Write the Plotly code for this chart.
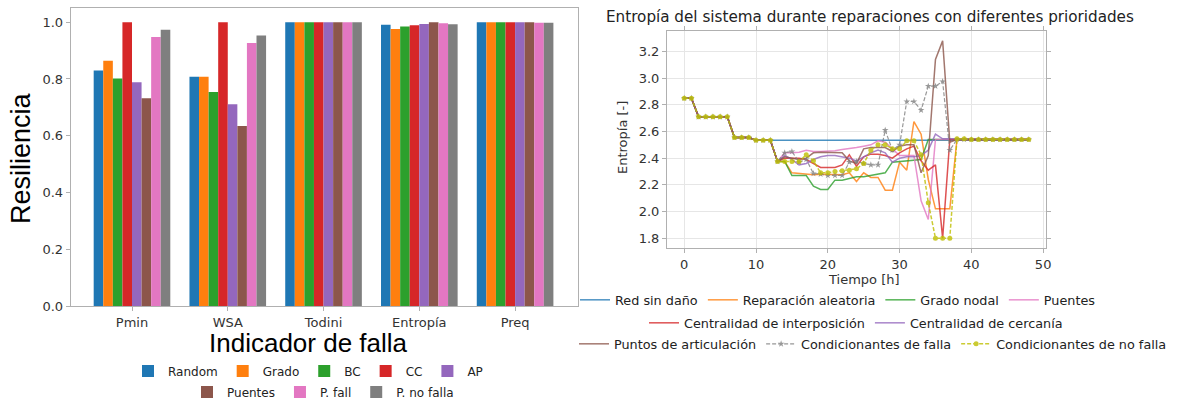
import plotly.graph_objects as go

# ---------------- Left chart data (Resiliencia por indicador) ----------------
indicadores = ["Pmin", "WSA", "Todini", "Entropía", "Preq"]
estrategias = ["Random", "Grado", "BC", "CC", "AP", "Puentes", "P. fall", "P. no falla"]
res_random = [0.830, 0.808, 1.000, 0.991, 1.000]
res_grado = [0.864, 0.808, 1.000, 0.976, 1.000]
res_bc = [0.802, 0.754, 1.000, 0.985, 1.000]
res_cc = [1.000, 1.000, 1.000, 0.989, 1.000]
res_ap = [0.788, 0.711, 1.000, 0.994, 1.000]
res_puentes = [0.732, 0.634, 1.000, 1.000, 1.000]
res_pfall = [0.948, 0.927, 1.000, 0.996, 0.998]
res_pnofalla = [0.973, 0.953, 1.000, 0.993, 0.998]
resiliencias = [res_random, res_grado, res_bc, res_cc, res_ap, res_puentes, res_pfall, res_pnofalla]

# ---------------- Right chart data (Entropía vs tiempo) ----------------
tiempo = list(range(49))
red_sin_dano = [2.85, 2.85, 2.71, 2.71, 2.71, 2.71, 2.71, 2.555, 2.555, 2.555, 2.535, 2.535, 2.535,
                2.535, 2.535, 2.535, 2.535, 2.535, 2.535, 2.535, 2.535, 2.535, 2.535, 2.535, 2.535,
                2.535, 2.535, 2.535, 2.535, 2.535, 2.535, 2.535, 2.535, 2.535, 2.535, 2.535, 2.535,
                2.535, 2.535, 2.535, 2.535, 2.535, 2.535, 2.535, 2.535, 2.535, 2.535, 2.535, 2.535]
rep_aleatoria = [2.85, 2.85, 2.71, 2.71, 2.71, 2.71, 2.71, 2.555, 2.555, 2.555, 2.535, 2.535, 2.535,
                 2.375, 2.375, 2.29, 2.285, 2.28, 2.275, 2.28, 2.28, 2.28, 2.275, 2.29, 2.225,
                 2.29, 2.255, 2.255, 2.16, 2.16, 2.37, 2.31, 2.675, 2.58, 2.24, 2.02, 2.02,
                 2.02, 2.54, 2.54, 2.54, 2.54, 2.54, 2.54, 2.54, 2.54, 2.54, 2.54, 2.54]
grado_nodal = [2.85, 2.85, 2.71, 2.71, 2.71, 2.71, 2.71, 2.555, 2.555, 2.555, 2.535, 2.535, 2.535,
               2.375, 2.375, 2.27, 2.27, 2.27, 2.19, 2.165, 2.165, 2.235, 2.235, 2.25, 2.26,
               2.26, 2.27, 2.28, 2.29, 2.37, 2.375, 2.38, 2.385, 2.39, 2.54, 2.54, 2.54,
               2.54, 2.54, 2.54, 2.54, 2.54, 2.54, 2.54, 2.54, 2.54, 2.54, 2.54, 2.54]
puentes = [2.85, 2.85, 2.71, 2.71, 2.71, 2.71, 2.71, 2.555, 2.555, 2.555, 2.535, 2.535, 2.535,
           2.375, 2.44, 2.44, 2.445, 2.46, 2.45, 2.45, 2.45, 2.455, 2.465, 2.47, 2.48,
           2.49, 2.50, 2.53, 2.52, 2.47, 2.42, 2.42, 2.42, 2.08, 1.94, 2.54, 2.54,
           2.54, 2.54, 2.54, 2.54, 2.54, 2.54, 2.54, 2.54, 2.54, 2.54, 2.54, 2.54]
interposicion = [2.85, 2.85, 2.71, 2.71, 2.71, 2.71, 2.71, 2.555, 2.555, 2.555, 2.535, 2.535, 2.535,
                 2.375, 2.40, 2.40, 2.40, 2.39, 2.36, 2.33, 2.33, 2.33, 2.35, 2.425, 2.34,
                 2.41, 2.43, 2.43, 2.42, 2.40, 2.44, 2.47, 2.49, 2.38, 2.31, 2.35, 1.80,
                 2.54, 2.54, 2.54, 2.54, 2.54, 2.54, 2.54, 2.54, 2.54, 2.54, 2.54, 2.54]
cercania = [2.85, 2.85, 2.71, 2.71, 2.71, 2.71, 2.71, 2.555, 2.555, 2.555, 2.535, 2.535, 2.535,
            2.375, 2.42, 2.39, 2.35, 2.36, 2.39, 2.41, 2.42, 2.42, 2.41, 2.40, 2.38,
            2.41, 2.44, 2.46, 2.44, 2.37, 2.40, 2.41, 2.41, 2.42, 2.46, 2.58, 2.545,
            2.545, 2.545, 2.54, 2.54, 2.54, 2.54, 2.54, 2.54, 2.54, 2.54, 2.54, 2.54]
articulacion = [2.85, 2.85, 2.71, 2.71, 2.71, 2.71, 2.71, 2.555, 2.555, 2.555, 2.535, 2.535, 2.535,
                2.375, 2.41, 2.40, 2.39, 2.40, 2.44, 2.445, 2.445, 2.445, 2.44, 2.38, 2.36,
                2.47, 2.48, 2.48, 2.48, 2.45, 2.49, 2.50, 2.50, 2.29, 2.42, 3.14, 3.28,
                2.52, 2.54, 2.54, 2.54, 2.54, 2.54, 2.54, 2.54, 2.54, 2.54, 2.54, 2.54]
cond_falla = [2.85, 2.85, 2.71, 2.71, 2.71, 2.71, 2.71, 2.555, 2.555, 2.555, 2.535, 2.535, 2.535,
              2.375, 2.44, 2.45, 2.37, 2.39, 2.285, 2.28, 2.27, 2.27, 2.27, 2.37, 2.375,
              2.36, 2.35, 2.35, 2.61, 2.46, 2.50, 2.825, 2.825, 2.76, 2.94, 2.94, 2.975,
              2.46, 2.54, 2.54, 2.54, 2.54, 2.54, 2.54, 2.54, 2.54, 2.54, 2.54, 2.54]
cond_no_falla = [2.85, 2.85, 2.71, 2.71, 2.71, 2.71, 2.71, 2.555, 2.555, 2.555, 2.535, 2.535, 2.535,
                 2.375, 2.375, 2.375, 2.375, 2.425, 2.38, 2.29, 2.29, 2.30, 2.305, 2.31, 2.32,
                 2.36, 2.46, 2.50, 2.50, 2.47, 2.47, 2.53, 2.53, 2.425, 2.065, 1.80, 1.80,
                 1.80, 2.545, 2.545, 2.54, 2.54, 2.54, 2.54, 2.54, 2.54, 2.54, 2.54, 2.54]

series_nombres = ["Red sin daño", "Reparación aleatoria", "Grado nodal", "Puentes",
                  "Centralidad de interposición", "Centralidad de cercanía",
                  "Puntos de articulación", "Condicionantes de falla", "Condicionantes de no falla"]
series_valores = [red_sin_dano, rep_aleatoria, grado_nodal, puentes, interposicion, cercania,
                  articulacion, cond_falla, cond_no_falla]

# ---------------- Styles ----------------
tab10 = ["#1f77b4", "#ff7f0e", "#2ca02c", "#d62728", "#9467bd", "#8c564b", "#e377c2", "#7f7f7f"]
line_colors = ["#1f77b4", "#ff7f0e", "#2ca02c", "#e377c2", "#d62728", "#9467bd", "#8c564b",
               "#7f7f7f", "#bfbf00"]
bar_legends = ["legend"] * 5 + ["legend2"] * 3
line_legends = ["legend3"] * 4 + ["legend4"] * 2 + ["legend5"] * 3

W, H = 1180, 400
def px(x):
    return x / W
def py(y):
    return 1 - y / H

fig = go.Figure()

for name, vals, col, lg in zip(estrategias, resiliencias, tab10, bar_legends):
    fig.add_trace(go.Bar(x=indicadores, y=vals, name=name, marker=dict(color=col, line=dict(width=0)),
                         xaxis="x", yaxis="y", legend=lg))

for i, (name, vals, col, lg) in enumerate(zip(series_nombres, series_valores, line_colors, line_legends)):
    kw = dict(mode="lines", line=dict(color=col, width=1.5))
    if name == "Condicionantes de falla":
        kw = dict(mode="lines+markers", line=dict(color=col, width=1.2, dash="4px,2px"),
                  marker=dict(symbol="star", size=5, color=col))
    elif name == "Condicionantes de no falla":
        kw = dict(mode="lines+markers", line=dict(color=col, width=1.5, dash="4px,2px"),
                  marker=dict(symbol="circle", size=5, color=col))
    fig.add_trace(go.Scatter(x=tiempo, y=vals, name=name, xaxis="x2", yaxis="y2", legend=lg,
                             opacity=0.8, **kw))

tickfont = dict(family="DejaVu Sans", size=13, color="#333333")
frame = "#b0b0b0"
common_axis = dict(showline=True, linecolor=frame, linewidth=1, ticks="outside", ticklen=4,
                   tickcolor=frame, tickfont=tickfont, zeroline=False, automargin=False)

def legend_at(x, y, xanchor, size):
    return dict(orientation="h", x=px(x), y=py(y), xanchor=xanchor, yanchor="middle",
                bgcolor="rgba(0,0,0,0)",
                font=dict(family="DejaVu Sans", size=size, color="#222222"),
                itemclick=False, itemdoubleclick=False)

def note(text, x, y, size, family="DejaVu Sans", color="#333333", angle=0):
    return dict(text=text, x=px(x), y=py(y), xref="paper", yref="paper", showarrow=False,
                xanchor="center", yanchor="middle", textangle=angle,
                font=dict(family=family, size=size, color=color))

fig.update_layout(
    width=W, height=H,
    margin=dict(l=0, r=0, t=0, b=0, pad=0, autoexpand=False),
    plot_bgcolor="white", paper_bgcolor="white",
    barmode="group", bargap=0.2, bargroupgap=0,
    showlegend=True,
    xaxis=dict(domain=[px(70.7), px(578.3)], anchor="y", type="category", range=[-0.64, 4.66],
               showgrid=False, mirror=True, **common_axis),
    yaxis=dict(domain=[py(306), py(8)], anchor="x", range=[0, 1.05],
               tickvals=[0, 0.2, 0.4, 0.6, 0.8, 1.0], tickformat=".1f",
               showgrid=False, mirror=True, **common_axis),
    xaxis2=dict(domain=[px(667), px(1046)], anchor="y2", range=[-2.4, 50.4], dtick=10, tick0=0,
                showgrid=True, gridcolor="#e6e6e6", gridwidth=1, mirror="ticks", **common_axis),
    yaxis2=dict(domain=[py(248), py(31)], anchor="x2", range=[1.726, 3.354], dtick=0.2, tick0=1.8,
                tickformat=".1f", showgrid=True, gridcolor="#e6e6e6", gridwidth=1, mirror="ticks",
                **common_axis),
    legend=legend_at(308, 371, "center", 12),
    legend2=legend_at(323, 392, "center", 12),
    legend3=legend_at(575, 300, "left", 12.8),
    legend4=legend_at(644, 323, "left", 12.8),
    legend5=legend_at(574, 344, "left", 12.8),
    annotations=[
        note("Resiliencia", 21, 158, 27, family="Liberation Sans", color="#000000", angle=-90),
        note("Indicador de falla", 308, 343, 26, family="Liberation Sans", color="#000000"),
        note("Entropía del sistema durante reparaciones con diferentes prioridades", 870, 17, 15.2,
             color="#222222"),
        note("Tiempo [h]", 864, 279, 13),
        note("Entropía [-]", 622, 138, 13, angle=-90),
    ],
)

# the page body has a default 8px margin; remove it so the figure fills the window exactly
fig.write_html("out.html",
               config={"displayModeBar": False},
               post_script="document.body.style.margin='0';document.body.style.overflow='hidden';")
